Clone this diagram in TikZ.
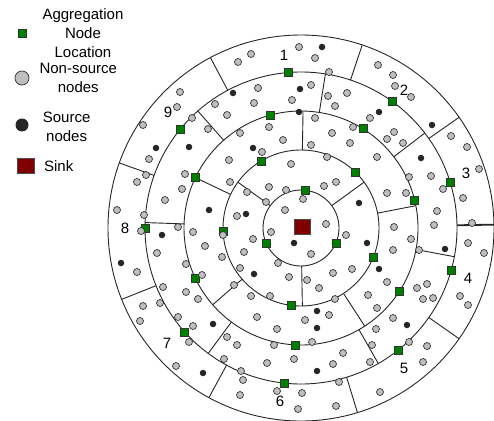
\documentclass[tikz,border=0pt]{standalone}
\usepackage{fontspec}
\setmainfont{Liberation Sans}
\usepackage{xcolor}
\usepackage{tikz}
\usetikzlibrary{positioning}

\begin{document}
\begin{tikzpicture}[x=1pt, y=-1pt, node distance = 10pt]
    \tikzstyle{plainnode} = [circle, draw=black!80, fill=lightgray, line width=0.7pt, inner sep=0pt, minimum size=7pt];
    \tikzstyle{srcnode} = [circle, fill=black!85, inner sep=0pt, minimum size=6.5pt];
    \tikzstyle{aggnode} = [rectangle, draw=black!80, fill=green!50!black, line width=0.6pt, inner sep=0pt, minimum size=8pt];
    \tikzstyle{sinknode} = [rectangle, draw=black!70, fill=red!50!black, line width=0.8pt, inner sep=0pt, minimum width=16pt, minimum height=15pt];
    \tikzstyle{ring} = [line width=0.9pt, black!85];
    \tikzstyle{zone} = [font=\fontsize{15}{18}\selectfont, inner sep=0pt];
    \tikzstyle{legtext} = [font=\fontsize{15}{19}\selectfont, align=center, inner sep=0pt];

    \useasboundingbox (0,0) rectangle (494,420);

    % legend
    \node [aggnode] (legagg) at (22,33) {};
    \node [legtext, right = 16pt of legagg] (legaggtxt) {Aggregation\\Node\\Location};
    \node [plainnode, minimum size=14pt] (legplain) at (22,78) {};
    \node [legtext, right = 10pt of legplain] (legplaintxt) {Non-source\\nodes};
    \node [srcnode, minimum size=13pt] (legsrc) at (22,125) {};
    \node [legtext, right = 14pt of legsrc, yshift=-2pt] (legsrctxt) {Source\\nodes};
    \node [sinknode, minimum width=17pt] (legsink) at (26,166) {};
    \node [legtext, right = 9pt of legsink] (legsinktxt) {Sink};

    % rings, borders and aggregation nodes
    \begin{scope}[shift={(301,228)}, yscale=-1]
        \coordinate (c) at (0,0);
        \foreach \r in {38pt,78pt,117pt,156pt,193pt}
            \draw [ring] (c) circle (\r);
        \foreach \a/\ri/\ro in {118/156/193, 71.5/156/193, 35/156/193, -35/156/193, -73/156/193,
                                -118.5/156/193, -158.3/156/193, 160.3/156/193,
                                131.4/117/156, 81/117/156, 37.5/117/156, -10.6/117/156, -60.3/117/156,
                                -126.5/117/156, 178/117/156,
                                154.5/78/117, 89/78/117, 11/78/117, -57/78/117, -139/78/117,
                                144/38/78, 36/38/78, -89/38/78}
            \draw [ring] (\a:\ri) -- (\a:\ro);
        \draw [ring, line width=1.8pt] (1:156) -- (1:200);
        \foreach \a/\r [count=\i] in {94.8/156, 54.1/156, 140.9/156, 16.9/156, 180/156, -15.9/156,
                                      -138.2/156, -51.6/156, -96.3/156,
                                      105.3/117, 58/117, 154.5/117, 13.6/117, -154.5/117, -32.9/117, -92.9/117,
                                      120.8/78, 45.5/78, 182.2/78, -21.9/78, -97.2/78,
                                      84/38, -157/38, -23.2/38}
            \node [aggnode] (a\i) at (\a:\r) {};
    \end{scope}

    \node [sinknode] (sink) at (302,227) {};

    % non-source nodes
    \foreach \x/\y [count=\i] in {299/47, 315/58, 251/54, 238/62, 258/88, 311/85, 292/100, 254/103,
        215/104, 180/92, 177/107, 143/125, 192/118, 208/129, 227/115, 240/133, 269/127, 283/140,
        262/152, 229/160, 291/164, 315/118, 311/145, 149/159, 146/175, 137/182, 185/174, 182/189,
        165/200, 144/215, 230/182, 247/192, 269/187, 266/202, 286/190, 303/199, 285/210, 237/216,
        378/65, 393/75, 395/86, 411/97, 329/72, 328/96, 347/93, 335/106, 370/118, 353/127, 332/133,
        350/143, 394/132, 387/139, 403/143, 327/157, 377/157, 451/136, 467/147, 479/169, 431/176,
        409/177, 443/189, 463/198, 387/193, 406/193, 336/182, 324/186, 437/211, 472/223, 326/224,
        394/227, 434/225,
        117/210, 141/231, 178/227, 193/232, 205/246, 222/257, 223/235, 271/232, 253/239, 244/252,
        240/268, 278/263, 289/277, 157/253, 137/272, 186/264, 202/275, 163/287, 186/292, 198/299,
        234/285, 251/296, 270/296, 143/306, 140/321, 160/303, 178/317, 193/326, 189/342, 257/317,
        277/329, 274/345, 294/359, 227/337, 237/345, 267/363, 224/359, 241/371, 243/380, 176/366,
        240/395, 277/391, 298/409,
        311/254, 346/235, 307/280, 319/288, 333/273, 352/269, 411/239, 393/250, 419/250, 468/243,
        484/253, 387/282, 368/295, 377/308, 417/288, 427/284, 423/299, 433/298, 460/296, 468/305,
        335/299, 305/320, 329/315, 393/318, 376/329, 409/342, 427/346, 423/362, 372/345, 370/362,
        343/353, 333/364, 339/382, 302/393, 380/392, 336/406, 312/342}
        \node [plainnode] (p\i) at (\x,\y) {};

    % source nodes
    \foreach \x/\y [count=\i] in {233/93, 300/89, 299/112, 156/148, 189/147, 253/148, 209/210,
        246/214, 322/47, 379/112, 432/125, 421/158, 359/203, 162/235, 294/243, 121/263, 254/274,
        213/324, 203/373, 367/243, 445/249, 379/269, 317/311, 317/328, 407/325, 317/371}
        \node [srcnode] (b\i) at (\x,\y) {};

    % zone numbers
    \node [zone] (z1) at (284,55) {1};
    \node [zone] (z2) at (404,90) {2};
    \node [zone] (z3) at (466,173) {3};
    \node [zone] (z4) at (468,278) {4};
    \node [zone] (z5) at (404,368) {5};
    \node [zone] (z6) at (280,401) {6};
    \node [zone] (z7) at (167,343) {7};
    \node [zone] (z8) at (125,228) {8};
    \node [zone] (z9) at (168,112) {9};
\end{tikzpicture}
\end{document}
